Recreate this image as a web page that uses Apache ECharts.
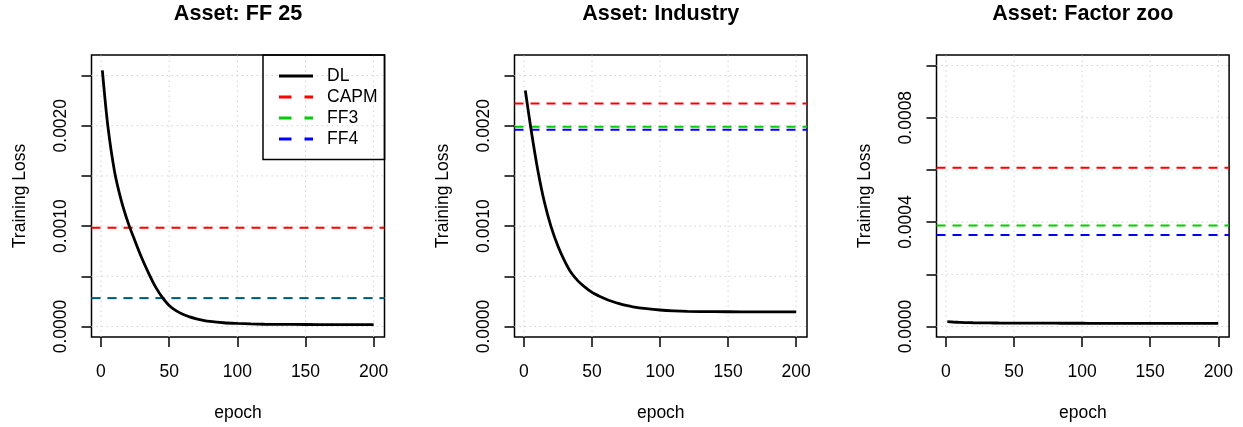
<!DOCTYPE html>
<html><head><meta charset="utf-8">
<script src="https://cdn.jsdelivr.net/npm/echarts@6/dist/echarts.min.js"></script>
<style>html,body{margin:0;padding:0;background:#fff}#c{width:1243px;height:427px}</style>
</head><body><div id="c"></div>
<script>
// ---------- data ----------
const panelTitles = ['Asset: FF 25', 'Asset: Industry', 'Asset: Factor zoo'];
const epochs = [1,5,10,15,20,25,30,35,40,45,50,55,60,65,70,75,80,90,100,110,120,140,160,180,200];
const dlFF25 = [0.00255,0.00200,0.00154,0.00125,0.00103,0.00085,0.00068,0.00053,0.000395,0.00029,0.00021,0.000158,0.000122,0.000096,0.000077,0.000062,0.000051,0.000038,0.000031,0.000026,0.000023,0.000021,0.00002,0.00002,0.00002];
const dlIndustry = [0.00235,0.00198,0.00157,0.00124,0.00099,0.00080,0.00065,0.00053,0.00045,0.00039,0.00034,0.000305,0.000275,0.00025,0.000228,0.00021,0.000196,0.000178,0.000165,0.000157,0.000152,0.000148,0.000147,0.000146,0.000146];
const dlFactorZoo = [0.000019,0.0000175,0.000016,0.0000152,0.0000146,0.0000142,0.0000139,0.0000137,0.0000135,0.0000134,0.0000133,0.0000132,0.0000131,0.000013,0.000013,0.0000129,0.0000128,0.0000127,0.0000126,0.0000125,0.0000124,0.0000123,0.0000122,0.0000121,0.000012];
const capm = [0.000985, 0.00222, 0.000608];
const ff3  = [0.000285, 0.00199, 0.000387];
const ff4  = [0.000283, 0.00196, 0.000351];
const xTicks = [0,50,100,150,200];
const yTicksA = [0,0.0005,0.001,0.0015,0.002,0.0025];
const yLabelsA = [0,0.001,0.002];
const yTicksB = [0,0.0002,0.0004,0.0006,0.0008,0.001];
const yLabelsB = [0,0.0004,0.0008];
const legendNames = ['DL','CAPM','FF3','FF4'];

// ---------- layout / style ----------
const FONT = 'Liberation Sans, Arial, Helvetica, sans-serif';
const xRange = [-6.96, 207.96];
const yRanges = [[-0.000104,0.002704],[-0.000104,0.002704],[-0.00004,0.00104]];
const grids = [
  {left:91.5, top:55, width:293, height:282.3},
  {left:514.5, top:55, width:292.5, height:282.3},
  {left:936.5, top:55, width:292.6, height:282.3}
];
const dlSeries = [dlFF25, dlIndustry, dlFactorZoo];
const yTicks = [yTicksA, yTicksA, yTicksB];
const yLabels = [yLabelsA, yLabelsA, yLabelsB];
const colors = {CAPM:'#FF0000', FF3:'#00CD00', FF4:'#0000FF'};
const ff4Opacity = [0.55, 1, 1];   // FF3/FF4 coincide in panel 1 and blend
const dash = [9,7];

const option = {
  animation:false,
  backgroundColor:'#fff',
  title: grids.map((g,i)=>({
    text: panelTitles[i], left: g.left + g.width/2, top: 3, textAlign:'center', padding:0,
    textStyle:{fontSize:21.6, fontWeight:'bold', fontFamily:FONT, color:'#000'}
  })),
  grid: grids.map(g=>Object.assign({show:true, borderColor:'#000', borderWidth:1.5, backgroundColor:'transparent', containLabel:false}, g)),
  xAxis: grids.map((g,i)=>({
    type:'value', gridIndex:i, min:xRange[0], max:xRange[1],
    axisLine:{show:false, onZero:false},
    axisTick:{show:true, length:10, customValues:xTicks, lineStyle:{color:'#000', width:1.5}},
    axisLabel:{customValues:xTicks, margin:26, fontSize:17.5, color:'#000', fontFamily:FONT},
    splitLine:{show:false},
    name:'epoch', nameLocation:'middle', nameGap:67,
    nameTextStyle:{fontSize:17.5, color:'#000', fontFamily:FONT}
  })),
  yAxis: grids.map((g,i)=>({
    type:'value', gridIndex:i, min:yRanges[i][0], max:yRanges[i][1],
    axisLine:{show:false, onZero:false},
    axisTick:{show:true, length:10, customValues:yTicks[i], lineStyle:{color:'#000', width:1.5}},
    axisLabel:{customValues:yLabels[i], rotate:90, margin:21, fontSize:17.5, color:'#000', fontFamily:FONT,
      formatter:v=>v.toFixed(4)},
    splitLine:{show:false},
    name:'Training Loss', nameLocation:'middle', nameGap:62,
    nameTextStyle:{fontSize:17.5, color:'#000', fontFamily:FONT}
  })),
  legend:{
    orient:'vertical', left:263, top:55, padding:[10.5,7,10,14.5],
    itemWidth:34, itemHeight:21, itemGap:0,
    borderColor:'#000', borderWidth:1.5, backgroundColor:'transparent',
    selectedMode:false,
    itemStyle:{color:'rgba(0,0,0,0)', borderWidth:0, opacity:0},
    textStyle:{fontSize:17.5, lineHeight:21, color:'#000', fontFamily:FONT, padding:[0,0,0,9]},
    data: legendNames.map(n=>({
      name:n,
      itemStyle:{color:'rgba(0,0,0,0)', borderWidth:0, opacity:0},
      lineStyle: n==='DL' ? {color:'#000', width:3, type:'solid', opacity:1} : {color:colors[n], width:3, type:[12.5,13], opacity:1}
    }))
  },
  series: []
};

const gridLine = {color:'#D3D3D3', width:1, type:[1.5,3.5]};

grids.forEach((g,i)=>{
  // dotted grid lines at the tick values
  option.series.push({
    type:'line', name:'grid'+i, xAxisIndex:i, yAxisIndex:i, z:2,
    data: xTicks.flatMap(v=>[[v, yRanges[i][0]], [v, yRanges[i][1]], [v, null]])
      .concat(yTicks[i].flatMap(v=>[[xRange[0], v], [xRange[1], v], [xRange[1], null]])),
    connectNulls:false, symbol:'none', showSymbol:false,
    lineStyle:gridLine, itemStyle:{color:'#D3D3D3'},
    emphasis:{disabled:true}, silent:true
  });
  // benchmark lines (horizontal, across the full x range)
  [['CAPM',capm],['FF3',ff3],['FF4',ff4]].forEach(([n,arr])=>{
    option.series.push({
      type:'line', name:n, xAxisIndex:i, yAxisIndex:i, z:3,
      data:[[xRange[0], arr[i]], [xRange[1], arr[i]]],
      symbol:'none', showSymbol:false,
      itemStyle:{color:colors[n]},
      lineStyle:{color:colors[n], width:2, type:dash, opacity: n==='FF4' ? ff4Opacity[i] : 1},
      emphasis:{disabled:true}, silent:true
    });
  });
  // DL curve
  option.series.push({
    type:'line', name:'DL', xAxisIndex:i, yAxisIndex:i, z:5,
    data: epochs.map((e,k)=>[e, dlSeries[i][k]]),
    symbol:'none', showSymbol:false, smooth:0.3,
    itemStyle:{color:'#000'}, lineStyle:{color:'#000', width:2.8},
    emphasis:{disabled:true}, silent:true
  });
});

const chart = echarts.init(document.getElementById('c'), null, {renderer:'canvas'});
chart.setOption(option);
</script>
</body></html>
